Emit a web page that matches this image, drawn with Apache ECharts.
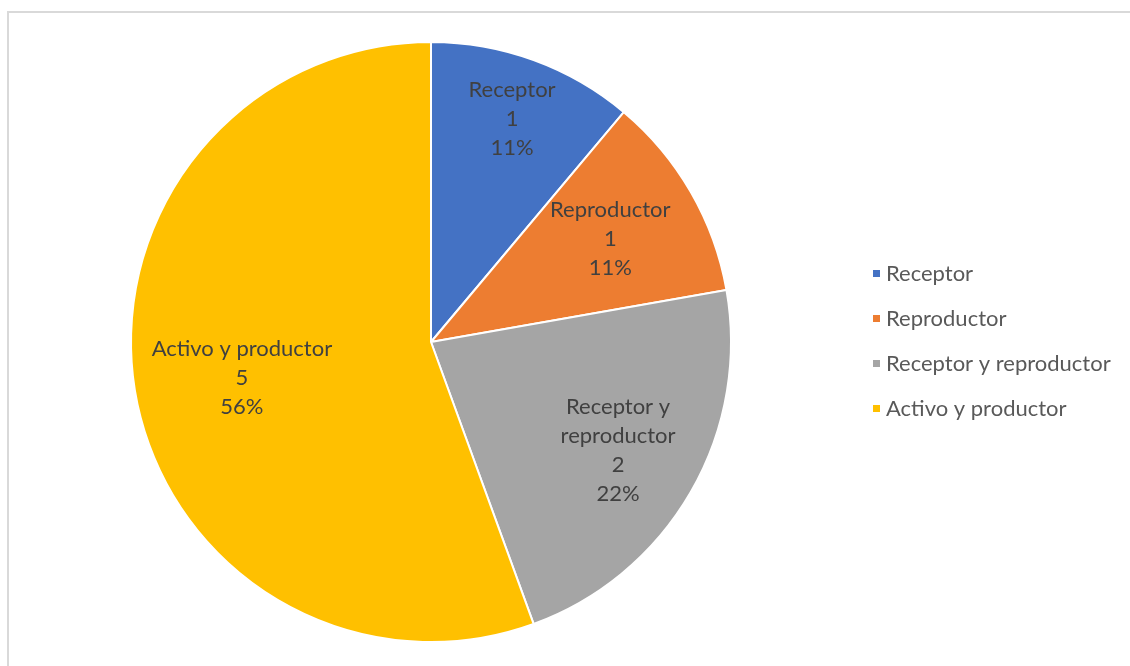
<!DOCTYPE html>
<html>
<head>
<meta charset="utf-8">
<script src="https://cdn.jsdelivr.net/npm/echarts@6/dist/echarts.min.js"></script>
<style>
  html, body { margin: 0; padding: 0; background: #fff; overflow: hidden; width: 1130px; height: 666px; }
  #frame { position: absolute; left: 7px; top: 11px; width: 1123px; height: 655px;
           border-top: 2px solid #d9d9d9; border-left: 2px solid #d9d9d9; box-sizing: border-box; }
  #chart { position: absolute; left: 0; top: 0; width: 1130px; height: 666px; }
</style>
</head>
<body>
<div id="frame"></div>
<div id="chart"></div>
<script>
// Categories and counts
const categories = ['Receptor', 'Reproductor', 'Receptor y reproductor', 'Activo y productor'];
const counts = [1, 1, 2, 5];
const colors = ['#4472C4', '#ED7D31', '#A5A5A5', '#FFC000'];
// Label display names (line breaks inside the slices)
const labelNames = ['Receptor', 'Reproductor', 'Receptor y\nreproductor', 'Activo y productor'];
// How far out along the radius each slice label sits (fraction of radius)
const labelRadius = [0.79, 0.69, 0.72, 0.64];

const center = [431, 342];
const radius = 300;
const startAngle = 90;
const total = counts.reduce((a, b) => a + b, 0);

const chart = echarts.init(document.getElementById('chart'));
chart.setOption({
  animation: false,
  color: colors,
  legend: {
    orient: 'vertical',
    left: 866,
    top: 257,
    icon: 'rect',
    itemWidth: 9,
    itemHeight: 9,
    itemGap: 22,
    textStyle: { fontFamily: 'Lato', fontSize: 22, lineHeight: 23, color: '#595959' },
    data: categories
  },
  series: [{
    type: 'pie',
    center: center,
    radius: radius,
    startAngle: startAngle,
    clockwise: true,
    itemStyle: { borderColor: '#fff', borderWidth: 2 },
    label: {
      show: true,
      position: 'inside',
      fontFamily: 'Lato',
      fontSize: 22,
      lineHeight: 29,
      color: '#404040',
      align: 'center',
      formatter: p => labelNames[p.dataIndex] + '\n' + p.value + '\n' + Math.round(p.percent) + '%'
    },
    labelLayout: function (params) {
      const i = params.dataIndex;
      let before = 0;
      for (let k = 0; k < i; k++) before += counts[k];
      const mid = startAngle - (before + counts[i] / 2) / total * 360;
      const rad = mid * Math.PI / 180;
      const r = radius * labelRadius[i];
      return {
        x: center[0] + r * Math.cos(rad),
        y: center[1] - r * Math.sin(rad) + (i === 3 ? 3 : 0),
        align: 'center',
        verticalAlign: 'middle'
      };
    },
    data: categories.map((c, i) => ({ name: c, value: counts[i] }))
  }]
});
</script>
</body>
</html>
